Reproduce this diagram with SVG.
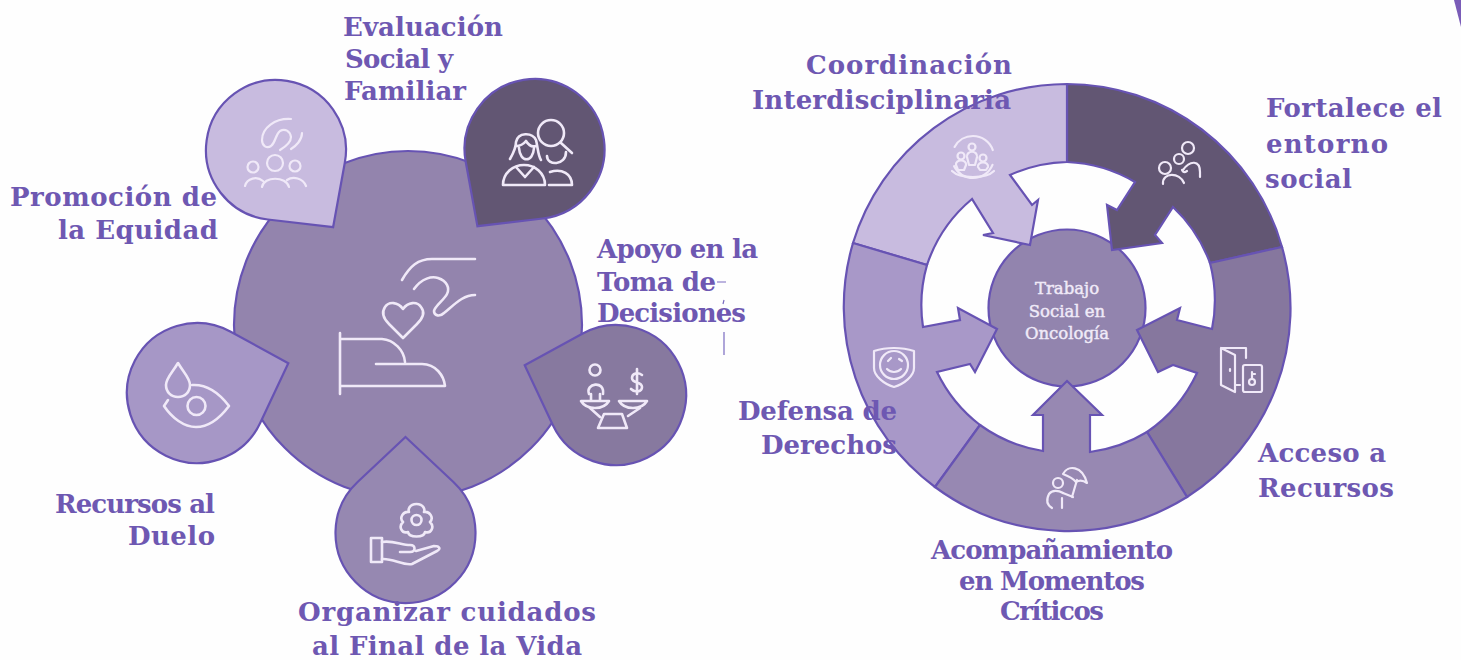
<svg xmlns="http://www.w3.org/2000/svg" width="1461" height="660" viewBox="0 0 1461 660">
<style>
.bg{fill:#fefefe}
.lb{font-family:"DejaVu Serif","Liberation Serif",serif;font-weight:700;font-size:26px;fill:#6e58b2}
.c{font-family:"DejaVu Serif","Liberation Serif",serif;font-size:16.500px;fill:#f0eaf8;stroke:#f0eaf8;stroke-width:.45;text-anchor:middle}
.s{stroke:#6753b3;stroke-width:2.200;stroke-linejoin:miter}
.i{fill:none;stroke:#f0e9f8;stroke-width:2.600;stroke-linecap:round;stroke-linejoin:round}
.i2{stroke-width:2.200}
</style>
<defs>
<path id="drop" d="M0,-96 L47.9,-51 A70,70 0 1 1 -47.9,-51 Z"/>
</defs>
<rect class="bg" width="1461" height="660"/>
<polygon points="1454,0 1461,0 1461,27" fill="#7a5cb8"/>

<g id="left-hub">
<circle class="s" cx="408" cy="325" r="174" fill="#9384ad"/>
<g class="i">
<path d="M402,280 C410,266 418,259 432,259 H475"/>
<path d="M414,289 C422,278 432,276 438,278 C447,281 450,288 447,294 C444,300 435,306 434,311 C434,316 440,317 444,313 C455,304 463,295 475,295"/>
<path d="M403,309 C398,302 389,301 385,307 C381,313 384,319 389,324 L403,338 L417,324 C422,319 426,313 421,307 C417,301 408,302 403,309 Z"/>
<path d="M340,333 V394 M340,339 H382 C394,340 404,350 405,362 M376,364 H422 C436,364 444,376 445,386 H340"/>
</g>
</g>

<g id="node-evaluacion-light">
<use href="#drop" class="s" fill="#c8bbdf" transform="translate(276,150) rotate(143.5)"/>
<g class="i i2">
<path d="M291,119 C275,118 262,128 262,140 C262,146 267,149 271,146 C276,142 275,135 280,131 C285,128 290,131 291,137 C291,142 285,147 280,150 M302,133 C302,140 296,146 291,149"/>
<circle cx="275" cy="163" r="8"/><circle cx="253" cy="167" r="5.500"/><circle cx="295" cy="166" r="5.500"/>
<path d="M245,186 C247,178 257,176 263,181 M262,187 C264,176 286,176 289,187 M287,180 C293,176 303,178 306,186"/>
</g>
</g>

<g id="node-evaluacion-dark">
<use href="#drop" class="s" fill="#625673" transform="translate(534.500,149) rotate(216.500)"/>
<g class="i">
<circle cx="551" cy="133" r="13"/>
<path d="M561,143 L572,153"/>
<path d="M510,159 C514,152 516,147 516,142 C518,132 532,132 536,140 C538,148 538,156 541,160"/>
<path d="M516,146 C522,146 526,141 526,141 C529,146 533,147 536,146 M519,148 C520,163 533,163 534,148"/>
<path d="M503,185 C503,173 513,165 524,165 C535,165 545,173 545,185 Z M516,167 L525,177 L534,167"/>
<path d="M547,156 C547,166 566,166 566,152 M550,172 C562,168 572,174 572,185 H549"/>
</g>
</g>

<g id="node-decisiones">
<use href="#drop" class="s" fill="#87799f" transform="translate(616,395) rotate(288)"/>
<g class="i">
<circle cx="595" cy="370" r="5.500"/>
<path d="M589,394 C585,383 605,380 603,394 M591,394 V400 M600,394 V400"/>
<path d="M581,401 H609 C606,406 602,408 595,408 C589,408 584,406 581,401 Z M619,401 H647 C644,406 640,408 633,408 C627,408 622,406 619,401 Z"/>
<path d="M590,408 L600,417 M640,408 L628,416 M604,414 H622 L627,428 H598 Z"/>
<path d="M642,375 C638,372 632,373 632,378 C632,384 642,381 642,387 C642,392 635,393 631,389 M637,369 V394"/>
</g>
</g>

<g id="node-final">
<use href="#drop" class="s" fill="#9688b1" transform="translate(405.500,533)"/>
<g class="i">
<circle cx="416.500" cy="520" r="5"/>
<path d="M416.500,504 C424,504 425,510 424,512 C430,511 434,518 430,522 C435,527 431,534 425,532 C424,538 409,538 408,532 C402,534 398,527 403,522 C399,518 403,511 409,512 C408,510 409,504 416.500,504 Z"/>
<rect x="371" y="538" width="11" height="24"/>
<path d="M382,542 C392,540 402,545 410,545 C416,545 416,552 410,552 H400 M416,551 L434,546 C440,546 441,549 437,551 L412,564 C404,566 392,558 382,559"/>
</g>
</g>

<g id="node-duelo">
<use href="#drop" class="s" fill="#a697c6" transform="translate(197,393) rotate(72)"/>
<g class="i">
<path d="M178,363 C172,373 166,378 166,385 C166,392 171,397 178,397 C185,397 190,392 190,385 C190,378 184,373 178,363 Z"/>
<path d="M192,385 C208,384 220,394 229,406 C220,418 208,427 196,427 C184,427 172,418 164,406 L168,400"/>
<circle cx="196.500" cy="406" r="9"/>
</g>
</g>

<g id="ring">
<circle id="hub-right" class="s" cx="1067" cy="308" r="78.500" fill="#9284ae"/>
<path id="seg-fortalece" class="s" fill="#625673" d="M1067,84 A224,224 0 0 1 1282,247 L1210,263 A146,146 0 0 0 1173,207 L1155,235 L1162,243 L1112,250 L1107,205 L1117,210 L1135,182 A146,146 0 0 0 1067,162 Z"/>
<path id="seg-coordinacion" class="s" fill="#c8bbdf" d="M1067,84 A224,224 0 0 0 853,243 L927,265 A146,146 0 0 1 972,199 L993,233 L983,235 L1030,245 L1038,200 L1032,205 L1010,175 A146,146 0 0 1 1067,162 Z"/>
<path id="seg-acceso" class="s" fill="#86779e" d="M1282,247 A224,224 0 0 1 1187,497 L1147,432 A146,146 0 0 0 1197,373 L1173,365 L1158,372 L1137,330 L1180,308 L1177,320 L1212,329 A146,146 0 0 0 1210,263 Z"/>
<path id="seg-defensa" class="s" fill="#a898c8" d="M853,243 A224,224 0 0 0 935,487 L980,425 A146,146 0 0 1 937,372 L970,364 L975,372 L997,329 L958,308 L960,320 L923,327 A146,146 0 0 1 927,265 Z"/>
<path id="seg-acompanamiento" class="s" fill="#9788b2" d="M1187,497 A224,224 0 0 1 935,487 L980,425 A146,146 0 0 0 1043,451 V415 H1033 L1067,381 L1102,415 H1090 V452 A146,146 0 0 0 1147,432 Z"/>
</g>

<g id="ring-icons">
<g id="icon-coord" class="i i2">
<circle cx="973" cy="157" r="21" stroke-dasharray="48 20 48 20" stroke-dashoffset="-8"/>
<path d="M952,171 C960,179 986,179 994,171"/>
<circle cx="972" cy="147" r="3.500"/><path d="M967,157 C966,150 978,150 977,157 L975,165 H969 Z"/>
<circle cx="961" cy="156" r="3.500"/><path d="M956,165 C955,159 967,159 966,165 L964,170 H958 Z"/>
<circle cx="983" cy="158" r="3.500"/><path d="M978,167 C977,161 989,161 988,167 L986,170 H980 Z"/>
</g>
<g id="icon-fortalece" class="i i2">
<circle cx="1188" cy="148" r="6"/><circle cx="1165" cy="168" r="6"/><circle cx="1179" cy="159" r="5"/>
<path d="M1163,184 C1162,172 1180,172 1184,183 M1183,170 C1190,160 1200,160 1200,172 V177 M1187,171 C1184,173 1183,172 1182,170"/>
</g>
<g id="icon-acceso" class="i i2">
<path d="M1221,348 V385 L1235,392 V355 Z M1221,348 H1246 V358 M1235,385 H1240"/>
<rect x="1243" y="365" width="19" height="27" rx="2"/>
<circle cx="1252" cy="382" r="3"/><path d="M1252,379 V372 M1252,374 H1255 M1230,369 V371"/>
</g>
<g id="icon-acompanamiento" class="i i2">
<path d="M1063,474 C1068,465 1082,465 1087,483 C1083,480 1079,480 1076,482 C1073,478 1068,476 1063,474 Z M1077,480 L1072,497 M1063,493 L1073,497"/>
<circle cx="1058" cy="483" r="5"/>
<path d="M1052,508 C1047,505 1046,500 1049,494 C1052,490 1058,490 1063,493 M1062,508 V498"/>
</g>
<g id="icon-defensa" class="i i2">
<path d="M874,351 C886,347 902,347 914,351 V368 C914,376 904,384 894,387 C884,384 874,376 874,368 Z"/>
<circle cx="894" cy="365" r="14"/>
<path d="M887,369 C891,373 897,373 901,369 M888,361 L891,358 M899,359 L902,361"/>
</g>
</g>

<g id="labels">
<text class="lb" x="343" y="36" textLength="160">Evaluación</text>
<text class="lb" x="345" y="68" textLength="108">Social y</text>
<text class="lb" x="344" y="100" textLength="122">Familiar</text>
<text class="lb" x="10" y="206" textLength="207">Promoción de</text>
<text class="lb" x="58" y="239" textLength="160">la Equidad</text>
<text class="lb" x="597" y="258" textLength="161">Apoyo en la</text>
<text class="lb" x="597" y="291" textLength="119">Toma de</text>
<text class="lb" x="597" y="322" textLength="149">Decisiones</text>
<text class="lb" x="55" y="513" textLength="160">Recursos al</text>
<text class="lb" x="128" y="545" textLength="87">Duelo</text>
<text class="lb" x="298" y="621" textLength="298">Organizar cuidados</text>
<text class="lb" x="312" y="655" textLength="270">al Final de la Vida</text>
<text class="lb" x="806" y="74" textLength="206">Coordinación</text>
<text class="lb" x="752" y="109" textLength="259">Interdisciplinaria</text>
<text class="lb" x="1266" y="117" textLength="176">Fortalece el</text>
<text class="lb" x="1266" y="153" textLength="122">entorno</text>
<text class="lb" x="1265" y="188" textLength="87">social</text>
<text class="lb" x="1258" y="462" textLength="128">Acceso a</text>
<text class="lb" x="1258" y="497" textLength="136">Recursos</text>
<text class="lb" x="738" y="420" textLength="159">Defensa de</text>
<text class="lb" x="761" y="454" textLength="136">Derechos</text>
<text class="lb" x="931" y="559" textLength="242">Acompañamiento</text>
<text class="lb" x="959" y="590" textLength="186">en Momentos</text>
<text class="lb" x="1000" y="620" textLength="104">Críticos</text>
<text class="c" x="1067" y="294">Trabajo</text>
<text class="c" x="1067" y="317">Social en</text>
<text class="c" x="1067" y="339">Oncología</text>
</g>
<path d="M717,282 H726 M724,300 L723,304 M724,332 V355" fill="none" stroke="#7a6bc0" stroke-width="1.200"/>
</svg>
